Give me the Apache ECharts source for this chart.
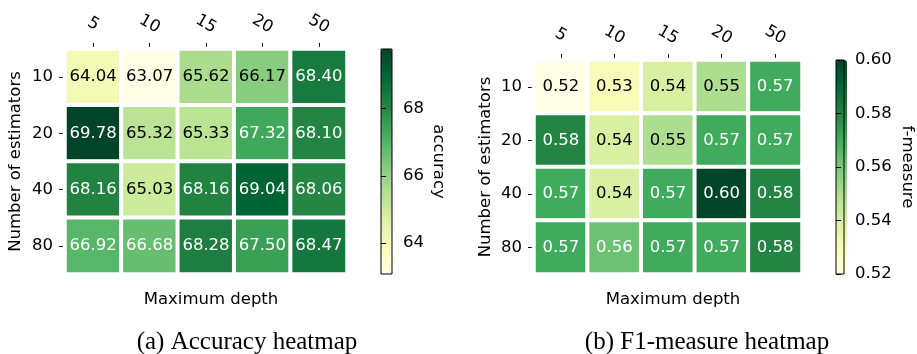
<!DOCTYPE html>
<html>
<head>
<meta charset="utf-8">
<script src="https://cdn.jsdelivr.net/npm/echarts@6/dist/echarts.min.js"></script>
<style>
html,body{margin:0;padding:0;background:#fff;}
#c{width:917px;height:354px;}
</style>
</head>
<body>
<div id="c"></div>
<script>
// ---- data ----
var depths = ['5', '10', '15', '20', '50'];
var estimators = ['10', '20', '40', '80'];
var accuracy = [
  [64.04, 63.07, 65.62, 66.17, 68.40],
  [69.78, 65.32, 65.33, 67.32, 68.10],
  [68.16, 65.03, 68.16, 69.04, 68.06],
  [66.92, 66.68, 68.28, 67.50, 68.47]
];
var fmeasure = [
  [0.52, 0.53, 0.54, 0.55, 0.57],
  [0.58, 0.54, 0.55, 0.57, 0.57],
  [0.57, 0.54, 0.57, 0.60, 0.58],
  [0.57, 0.562, 0.57, 0.57, 0.58]
];
var accTicks = [64, 66, 68];
var f1Ticks = [0.52, 0.54, 0.56, 0.58, 0.60];
var ylgn = ['#ffffe5','#f7fcb9','#d9f0a3','#addd8e','#78c679','#41ab5d','#238443','#006837','#004529'];

function flat(m) { var a = []; m.forEach(function (r) { r.forEach(function (v) { a.push(v); }); }); return a; }
var accMin = Math.min.apply(null, flat(accuracy)), accMax = Math.max.apply(null, flat(accuracy));
var f1Min = Math.min.apply(null, flat(fmeasure)), f1Max = Math.max.apply(null, flat(fmeasure));

var INK = '#000000';
function cells(m, mn, mx) {
  var out = [];
  var mid = (mn + mx) / 2;
  m.forEach(function (row, yi) {
    row.forEach(function (v, xi) {
      out.push({ value: [xi, yi, v], label: { color: v > mid ? '#ffffff' : INK } });
    });
  });
  return out;
}

var FONT = 'DejaVu Sans';
var FS = 16.5;

function heatX(gi, margin) {
  return {
    type: 'category', gridIndex: gi, data: depths, position: 'top',
    axisLine: { show: false },
    axisTick: { show: true, alignWithLabel: true, length: 6, lineStyle: { color: INK, width: 1 } },
    axisLabel: { rotate: 30, margin: margin, align: 'center', verticalAlign: 'middle', fontFamily: FONT, fontSize: FS, color: INK },
    splitLine: { show: false }
  };
}
function heatY(gi, gap) {
  return {
    type: 'category', gridIndex: gi, data: estimators, inverse: true,
    axisLine: { show: false },
    axisTick: { show: true, alignWithLabel: true, length: 6, lineStyle: { color: INK, width: 1 } },
    axisLabel: { margin: 12, fontFamily: FONT, fontSize: FS, color: INK },
    name: 'Number of estimators', nameLocation: 'middle', nameGap: gap, nameRotate: 90,
    nameTextStyle: { fontFamily: FONT, fontSize: FS, color: INK },
    splitLine: { show: false }
  };
}
function barX(gi) {
  return { type: 'value', gridIndex: gi, show: false, min: 0, max: 1 };
}
function barY(gi, mn, mx, ticks, name, gap, dec) {
  return {
    type: 'value', gridIndex: gi, position: 'right', min: mn, max: mx, z: 10,
    axisLine: { show: false },
    axisTick: { show: true, length: 5, customValues: ticks, lineStyle: { color: INK, width: 1 } },
    axisLabel: { margin: 11, customValues: ticks, fontFamily: FONT, fontSize: FS, color: INK,
      formatter: function (v) { return v.toFixed(dec); } },
    splitLine: { show: false },
    name: name, nameLocation: 'middle', nameGap: gap, nameRotate: -90,
    nameTextStyle: { fontFamily: FONT, fontSize: FS, color: INK }
  };
}

var option = {
  backgroundColor: '#ffffff',
  animation: false,
  title: [
    { text: 'Maximum depth', left: 206, top: 286, textAlign: 'center', textStyle: { fontFamily: FONT, fontSize: FS, fontWeight: 'normal', color: INK } },
    { text: 'Maximum depth', left: 668, top: 286, textAlign: 'center', textStyle: { fontFamily: FONT, fontSize: FS, fontWeight: 'normal', color: INK } },
    { text: '(a) Accuracy heatmap', left: 242, top: 325, textAlign: 'center', textStyle: { fontFamily: 'Liberation Serif', fontSize: 25, fontWeight: 'normal', color: INK } },
    { text: '(b) F1-measure heatmap', left: 702, top: 325, textAlign: 'center', textStyle: { fontFamily: 'Liberation Serif', fontSize: 25, fontWeight: 'normal', color: INK } }
  ],
  grid: [
    { left: 65, top: 49, width: 282, height: 225 },
    { left: 534, top: 60, width: 268, height: 214 },
    { left: 381, top: 49, width: 11, height: 225, show: true, borderColor: INK, borderWidth: 1, backgroundColor: 'transparent', z: 10 },
    { left: 836, top: 60, width: 11, height: 214, show: true, borderColor: INK, borderWidth: 1, backgroundColor: 'transparent', z: 10 }
  ],
  xAxis: [heatX(0, 25), heatX(1, 25), barX(2), barX(3)],
  yAxis: [heatY(0, 41), heatY(1, 40),
    barY(2, accMin, accMax, accTicks, 'accuracy', 38, 0),
    barY(3, f1Min, f1Max, f1Ticks, 'f-measure', 55, 2)],
  visualMap: [
    { type: 'continuous', seriesIndex: 0, min: accMin, max: accMax, calculable: false, orient: 'vertical',
      left: 381, top: 49, itemWidth: 11, itemHeight: 225, padding: 0, inRange: { color: ylgn } },
    { type: 'continuous', seriesIndex: 1, min: f1Min, max: f1Max, calculable: false, orient: 'vertical',
      left: 836, top: 60, itemWidth: 11, itemHeight: 214, padding: 0, inRange: { color: ylgn } }
  ],
  series: [
    { type: 'heatmap', xAxisIndex: 0, yAxisIndex: 0, data: cells(accuracy, accMin, accMax),
      itemStyle: { borderColor: '#ffffff', borderWidth: 4 },
      label: { show: true, fontFamily: FONT, fontSize: FS, formatter: function (p) { return p.value[2].toFixed(2); } },
      emphasis: { disabled: true } },
    { type: 'heatmap', xAxisIndex: 1, yAxisIndex: 1, data: cells(fmeasure, f1Min, f1Max),
      itemStyle: { borderColor: '#ffffff', borderWidth: 4 },
      label: { show: true, fontFamily: FONT, fontSize: FS, formatter: function (p) { return p.value[2].toFixed(2); } },
      emphasis: { disabled: true } }
  ]
};
var chart = echarts.init(document.getElementById('c'), null, { renderer: 'canvas' });
chart.setOption(option);
</script>
</body>
</html>
